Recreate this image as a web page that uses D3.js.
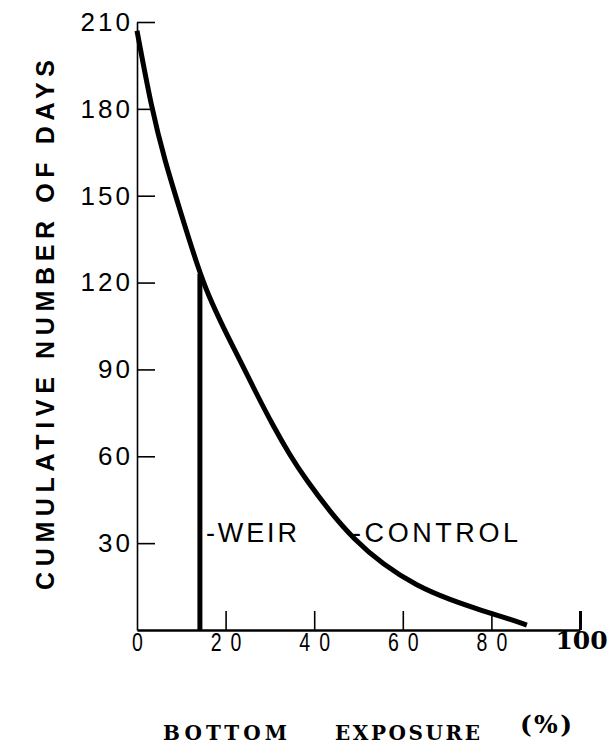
<!DOCTYPE html>
<html>
<head>
<meta charset="utf-8">
<script src="https://cdn.jsdelivr.net/npm/d3@7"></script>
<style>
  html, body { margin: 0; padding: 0; background: #fff; }
  svg { display: block; }
</style>
</head>
<body>
<svg id="chart" width="607" height="744"></svg>
<script>
// ---- data ----
const controlExposure = [0, 3.3, 6.3, 9.7, 13.8, 16, 19.4, 23.3, 27, 30.7, 34.5, 38.3, 43.6, 48.8, 55.5, 63.2, 70.7, 78.1, 83.5, 88];
const controlDays     = [207, 180, 162, 145, 125, 116, 104.7, 93, 81.5, 70.6, 60.4, 51.6, 40.8, 31.6, 22.6, 15.2, 10.4, 6.6, 4.1, 1.7];
const weirExposure = [14.2, 14.2];
const weirDays     = [0, 123];
const xTicks = [0, 20, 40, 60, 80, 100];
const yTicks = [30, 60, 90, 120, 150, 180, 210];
const seriesLabels = ["-WEIR", "-CONTROL"];
const xTitle = ["BOTTOM", "EXPOSURE", "(%)"];
const yTitle = "CUMULATIVE NUMBER OF DAYS";

// ---- scales ----
const svg = d3.select("#chart");
const x = d3.scaleLinear().domain([0, 100]).range([137, 580]);
const y = d3.scaleLinear().domain([0, 210]).range([630, 22]);

const sans = "'Liberation Sans', Arial, sans-serif";
const heavySerif = "'DejaVu Serif', 'Liberation Serif', serif";

// ---- y axis ----
const yAxis = svg.append("g").attr("transform", `translate(${x(0)},0)`)
  .call(d3.axisLeft(y).tickValues(yTicks).tickSizeInner(-18).tickSizeOuter(0).tickPadding(4));
yAxis.select(".domain").attr("stroke", "#000").attr("stroke-width", 1.6);
yAxis.selectAll(".tick line").attr("stroke", "#000").attr("stroke-width", 1.6);
yAxis.selectAll(".tick text")
  .attr("fill", "#000")
  .style("font-family", sans)
  .style("font-size", "26px")
  .style("letter-spacing", "3px");

// ---- x axis ----
const xAxis = svg.append("g").attr("transform", `translate(0,${y(0)})`)
  .call(d3.axisBottom(x).tickValues(xTicks).tickSizeInner(-19).tickSizeOuter(0).tickPadding(3));
xAxis.select(".domain").attr("stroke", "#000").attr("stroke-width", 2.6);
xAxis.selectAll(".tick line").filter(d => d === 0).remove();
xAxis.selectAll(".tick line").attr("stroke", "#000")
  .attr("stroke-width", d => d === 100 ? 3 : 1.6);
xAxis.selectAll(".tick text")
  .attr("fill", "#000")
  .style("font-family", sans)
  .style("font-size", "26px")
  .style("letter-spacing", d => d === 0 ? "0px" : "12px")
  .attr("dx", d => d === 0 ? "0px" : "6px")
  .attr("transform", "scale(0.75,1)");
xAxis.selectAll(".tick text").filter(d => d === 100)
  .style("font-family", heavySerif)
  .style("font-weight", "bold")
  .style("font-size", "25px")
  .style("letter-spacing", "0px")
  .attr("dx", "1px")
  .attr("y", 1)
  .attr("transform", null);

// ---- lines ----
const controlData = controlExposure.map((v, i) => [v, controlDays[i]]);
svg.append("path")
  .datum(controlData)
  .attr("d", d3.line().x(d => x(d[0])).y(d => y(d[1])).curve(d3.curveBasis))
  .attr("fill", "none").attr("stroke", "#000").attr("stroke-width", 5)
  .attr("stroke-linejoin", "round").attr("stroke-linecap", "butt");

const weirData = weirExposure.map((v, i) => [v, weirDays[i]]);
svg.append("path")
  .datum(weirData)
  .attr("d", d3.line().x(d => x(d[0])).y(d => y(d[1])))
  .attr("fill", "none").attr("stroke", "#000").attr("stroke-width", 5);

// ---- series labels ----
svg.append("text")
  .attr("x", 206).attr("y", 542)
  .attr("textLength", 91).attr("lengthAdjust", "spacing")
  .style("font-family", sans).style("font-size", "27px").attr("fill", "#000")
  .text(seriesLabels[0]);
svg.append("text")
  .attr("x", 352).attr("y", 542)
  .attr("textLength", 166).attr("lengthAdjust", "spacing")
  .style("font-family", sans).style("font-size", "27px").attr("fill", "#000")
  .text(seriesLabels[1]);

// ---- axis titles ----
svg.append("text")
  .attr("transform", "translate(54,325) rotate(-90)")
  .attr("text-anchor", "middle")
  .attr("textLength", 530).attr("lengthAdjust", "spacing")
  .style("font-family", sans).style("font-size", "25px").style("font-weight", "bold")
  .attr("fill", "#000")
  .text(yTitle);

svg.append("text").attr("x", 163).attr("y", 740)
  .attr("textLength", 124).attr("lengthAdjust", "spacing")
  .style("font-family", heavySerif).style("font-size", "20px").style("font-weight", "bold")
  .attr("fill", "#000").text(xTitle[0]);
svg.append("text").attr("x", 335).attr("y", 740)
  .attr("textLength", 145).attr("lengthAdjust", "spacing")
  .style("font-family", heavySerif).style("font-size", "20px").style("font-weight", "bold")
  .attr("fill", "#000").text(xTitle[1]);
svg.append("text").attr("x", 520).attr("y", 733)
  .attr("textLength", 52).attr("lengthAdjust", "spacing")
  .style("font-family", heavySerif).style("font-size", "25px").style("font-weight", "bold")
  .attr("fill", "#000").text(xTitle[2]);
</script>
</body>
</html>
